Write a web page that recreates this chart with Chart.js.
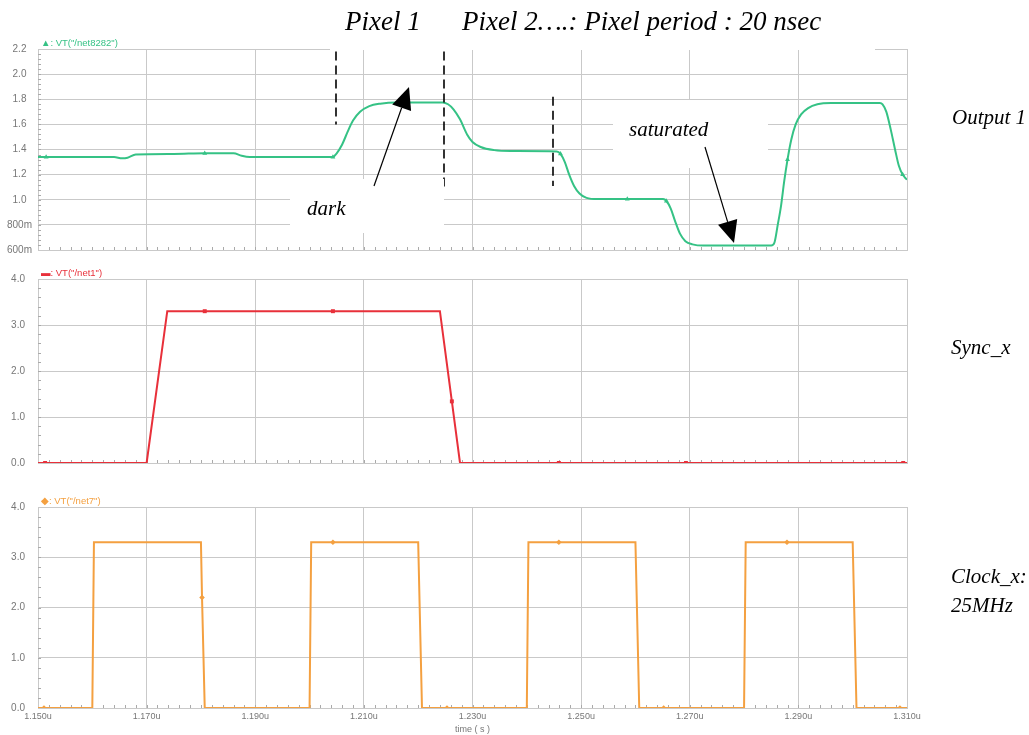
<!DOCTYPE html>
<html>
<head>
<meta charset="utf-8">
<script src="https://cdn.jsdelivr.net/npm/chart.js@4.4.1/dist/chart.umd.min.js"></script>
<style>
  html, body { margin: 0; padding: 0; background: #fff; }
  #wrap { position: relative; width: 1029px; height: 735px; overflow: hidden; background: #fff; }
  #wrap canvas { position: absolute; left: 0; }
  .side { position: absolute; font-family: "Liberation Serif", serif; font-style: italic; font-size: 21px; color: #000; line-height: 29px; white-space: nowrap; }
</style>
</head>
<body>
<div id="wrap">
  <canvas id="c1" width="1029" height="262" style="top:0px"></canvas>
  <canvas id="c2" width="1029" height="226" style="top:256px"></canvas>
  <canvas id="c3" width="1029" height="251" style="top:484px"></canvas>
  <div class="side" style="left:952px; top:103px">Output 1</div>
  <div class="side" style="left:951px; top:333px">Sync_x</div>
  <div class="side" style="left:951px; top:562px">Clock_x:<br>25MHz</div>
</div>
<script>
// time in microseconds, voltage in volts
const outTime = [1.1500, 1.1515, 1.1640, 1.1655, 1.1665, 1.1680, 1.1750, 1.1807, 1.1860, 1.1875, 1.1890,
  1.2043, 1.2050, 1.2060, 1.2070, 1.2080, 1.2093, 1.2110, 1.2130, 1.2160, 1.2245, 1.2255, 1.2265,
  1.2277, 1.2290, 1.2300, 1.2315, 1.2340, 1.2370, 1.2455, 1.2462, 1.2470, 1.2478, 1.2487, 1.2497,
  1.2510, 1.2530, 1.2585, 1.2651, 1.2657, 1.2665, 1.2673, 1.2682, 1.2692, 1.2705, 1.2725, 1.2850,
  1.2856, 1.2862, 1.2868, 1.2874, 1.2880, 1.2887, 1.2895, 1.2905, 1.2918, 1.2935, 1.2960, 1.3050,
  1.3055, 1.3062, 1.3070, 1.3078, 1.3085, 1.3092, 1.3100];
const outVolt = [1.340, 1.340, 1.340, 1.330, 1.335, 1.360, 1.365, 1.370, 1.370, 1.350, 1.340,
  1.340, 1.370, 1.440, 1.540, 1.630, 1.700, 1.745, 1.765, 1.775, 1.775, 1.760, 1.720,
  1.640, 1.520, 1.460, 1.420, 1.395, 1.388, 1.385, 1.365, 1.300, 1.200, 1.110, 1.050,
  1.015, 1.005, 1.005, 1.005, 0.990, 0.930, 0.830, 0.730, 0.670, 0.645, 0.635, 0.635,
  0.660, 0.800, 0.950, 1.150, 1.320, 1.480, 1.600, 1.680, 1.730, 1.760, 1.770, 1.770,
  1.760, 1.700, 1.560, 1.400, 1.270, 1.200, 1.160];
const outMarks = [1.1515, 1.1807, 1.2043, 1.2462, 1.2585, 1.2657, 1.2880, 1.3092];

const syncTime = [1.1500, 1.1513, 1.1700, 1.1738, 1.1807, 1.2043, 1.2240, 1.2262, 1.2277, 1.2459, 1.2693, 1.3093, 1.3100];
const syncVolt = [0, 0, 0, 3.3, 3.3, 3.3, 3.3, 1.34, 0, 0, 0, 0, 0];
const syncMarks = [1.1513, 1.1807, 1.2043, 1.2262, 1.2459, 1.2693, 1.3093];

const clockTime = [1.1500, 1.1511, 1.1600, 1.1603, 1.1800, 1.1802, 1.1807, 1.2000, 1.2003, 1.2043,
  1.2200, 1.2207, 1.2253, 1.2400, 1.2403, 1.2459, 1.2600, 1.2607, 1.2652, 1.2800, 1.2803, 1.2879,
  1.3000, 1.3007, 1.3087, 1.3100];
const clockVolt = [0, 0, 0, 3.3, 3.3, 2.2, 0, 0, 3.3, 3.3,
  3.3, 0, 0, 0, 3.3, 3.3, 3.3, 0, 0, 0, 3.3, 3.3,
  3.3, 0, 0, 0];
const clockMarks = [1.1511, 1.1802, 1.2043, 1.2253, 1.2459, 1.2652, 1.2879, 1.3087];

const xTickValues = [1.15, 1.17, 1.19, 1.21, 1.23, 1.25, 1.27, 1.29, 1.31];
const xTickLabels = ['1.150u', '1.170u', '1.190u', '1.210u', '1.230u', '1.250u', '1.270u', '1.290u', '1.310u'];
const y1TickValues = [0.6, 0.8, 1.0, 1.2, 1.4, 1.6, 1.8, 2.0, 2.2];
const y1TickLabels = ['600m', '800m', '1.0', '1.2', '1.4', '1.6', '1.8', '2.0', '2.2'];
const y2TickValues = [0, 1, 2, 3, 4];
const y2TickLabels = ['0.0', '1.0', '2.0', '3.0', '4.0'];

// pixel boundaries: time, dash top, dash bottom (V)
const pixelEdges = [1.205, 1.225, 1.245];
const edgeTop = [2.18, 2.18, 1.82];
const edgeBottom = [1.60, 1.09, 1.11];

const GRID = '#c9c9c9';
const LABEL = '#777';

// little minor ticks + trace name above each panel
const panelDeco = {
  id: 'panelDeco',
  beforeDatasetsDraw(chart, args, o) {
    const { ctx, chartArea: a, scales: { x, y } } = chart;
    ctx.save();
    ctx.strokeStyle = '#aaa';
    ctx.lineWidth = 1;
    ctx.beginPath();
    for (let t = 1.152; t < 1.3095; t += 0.002) {
      const px = Math.round(x.getPixelForValue(t)) + 0.5;
      ctx.moveTo(px, a.bottom);
      ctx.lineTo(px, a.bottom - 3);
    }
    for (let v = y.min + o.minor; v < y.max - 1e-6; v += o.minor) {
      const py = Math.round(y.getPixelForValue(v)) + 0.5;
      ctx.moveTo(a.left, py);
      ctx.lineTo(a.left + 3, py);
    }
    ctx.stroke();
    ctx.restore();
  },
  afterDraw(chart, args, o) {
    const { ctx, chartArea: a } = chart;
    ctx.save();
    ctx.font = '9.5px "Liberation Sans", sans-serif';
    ctx.fillStyle = o.color;
    ctx.fillText(o.legend, a.left + 3, a.top - 3);
    ctx.restore();
  }
};

function arrow(ctx, x0, y0, x1, y1) {
  const ang = Math.atan2(y1 - y0, x1 - x0), L = 22, W = 10;
  const bx = x1 - L * Math.cos(ang), by = y1 - L * Math.sin(ang);
  ctx.lineWidth = 1.2;
  ctx.strokeStyle = '#000';
  ctx.fillStyle = '#000';
  ctx.beginPath();
  ctx.moveTo(x0, y0);
  ctx.lineTo(bx, by);
  ctx.stroke();
  ctx.beginPath();
  ctx.moveTo(x1, y1);
  ctx.lineTo(bx + W * Math.sin(ang), by - W * Math.cos(ang));
  ctx.lineTo(bx - W * Math.sin(ang), by + W * Math.cos(ang));
  ctx.closePath();
  ctx.fill();
}

// the pasted-on notes of the top panel
const notes = {
  id: 'notes',
  afterDraw(chart) {
    const { ctx, scales: { x, y } } = chart;
    ctx.save();
    ctx.strokeStyle = '#000';
    ctx.lineWidth = 1.6;
    ctx.setLineDash([9, 5]);
    pixelEdges.forEach((t, i) => {
      const px = Math.round(x.getPixelForValue(t)) - 1;
      ctx.beginPath();
      ctx.moveTo(px, y.getPixelForValue(edgeTop[i]));
      ctx.lineTo(px, y.getPixelForValue(edgeBottom[i]));
      ctx.stroke();
    });
    ctx.setLineDash([]);

    ctx.fillStyle = '#fff';
    ctx.fillRect(330, 0, 545, 50);
    ctx.fillRect(290, 179, 154, 54);
    ctx.fillRect(613, 100, 155, 68);

    ctx.fillStyle = '#000';
    ctx.font = 'italic 27px "Liberation Serif", serif';
    ctx.fillText('Pixel 1', 345, 30);
    ctx.fillText('Pixel 2\u2026.: Pixel period : 20 nsec', 462, 30);
    ctx.font = 'italic 21px "Liberation Serif", serif';
    ctx.fillText('dark', 307, 215);
    ctx.fillText('saturated', 629, 136);

    arrow(ctx, 374, 186, 409, 87);
    arrow(ctx, 705, 147, 734, 243);
    ctx.restore();
  }
};

function makePanel(id, o) {
  const pts = o.time.map((t, i) => ({ x: t, y: o.volt[i] }));
  return new Chart(document.getElementById(id), {
    type: 'line',
    data: {
      datasets: [{
        data: pts,
        borderColor: o.color,
        backgroundColor: o.color,
        borderWidth: 2,
        cubicInterpolationMode: o.smooth ? 'monotone' : 'default',
        tension: o.smooth ? 0.4 : 0,
        pointStyle: o.pointStyle,
        pointRadius: ctx => (ctx.raw && o.marks.includes(ctx.raw.x)) ? 2.8 : 0,
        pointBorderWidth: 0,
        fill: false
      }]
    },
    options: {
      responsive: false,
      animation: false,
      devicePixelRatio: 1,
      layout: { padding: { top: o.padTop, right: 122, bottom: o.padBottom, left: 0 } },
      plugins: {
        legend: { display: false },
        tooltip: { enabled: false },
        panelDeco: { legend: o.legend, color: o.color, minor: o.minor }
      },
      scales: {
        x: {
          type: 'linear',
          min: 1.15,
          max: 1.31,
          afterBuildTicks: s => { s.ticks = xTickValues.map(v => ({ value: v })); },
          afterFit: s => { s.height = o.showX ? 27 : 0; },
          grid: { color: GRID, drawTicks: false },
          border: { color: GRID },
          ticks: {
            display: o.showX,
            autoSkip: false,
            maxRotation: 0,
            padding: 3,
            color: LABEL,
            font: { family: '"Liberation Sans", sans-serif', size: 9 },
            callback: (v, i) => xTickLabels[i]
          },
          title: {
            display: o.showX,
            text: 'time ( s )',
            color: LABEL,
            padding: { top: 0, bottom: 0 },
            font: { family: '"Liberation Sans", sans-serif', size: 9 }
          }
        },
        y: {
          min: o.yMin,
          max: o.yMax,
          afterBuildTicks: s => { s.ticks = o.yTicks.map(v => ({ value: v })); },
          afterFit: s => { s.width = 38; },
          grid: { color: GRID, drawTicks: false },
          border: { color: GRID },
          ticks: {
            crossAlign: 'center',
            padding: o.yPad,
            color: LABEL,
            font: { family: '"Liberation Sans", sans-serif', size: 10 },
            callback: (v, i) => o.yLabels[i]
          }
        }
      }
    },
    plugins: o.extra ? [panelDeco, o.extra] : [panelDeco]
  });
}

makePanel('c1', {
  time: outTime, volt: outVolt, marks: outMarks, color: '#35c285', smooth: true,
  pointStyle: 'triangle', legend: '\u25B2: VT("/net8282")',
  yMin: 0.6, yMax: 2.2, yTicks: y1TickValues, yLabels: y1TickLabels, minor: 0.04, yPad: 6,
  padTop: 49, padBottom: 11, showX: false, extra: notes
});
makePanel('c2', {
  time: syncTime, volt: syncVolt, marks: syncMarks, color: '#e8303a', smooth: false,
  pointStyle: 'rect', legend: '\u25AC: VT("/net1")',
  yMin: 0, yMax: 4, yTicks: y2TickValues, yLabels: y2TickLabels, minor: 0.2, yPad: 13,
  padTop: 23, padBottom: 2, showX: false
});
makePanel('c3', {
  time: clockTime, volt: clockVolt, marks: clockMarks, color: '#f4a040', smooth: false,
  pointStyle: 'rectRot', legend: '\u25C6: VT("/net7")',
  yMin: 0, yMax: 4, yTicks: y2TickValues, yLabels: y2TickLabels, minor: 0.2, yPad: 13,
  padTop: 23, padBottom: 0, showX: true
});
</script>
</body>
</html>
